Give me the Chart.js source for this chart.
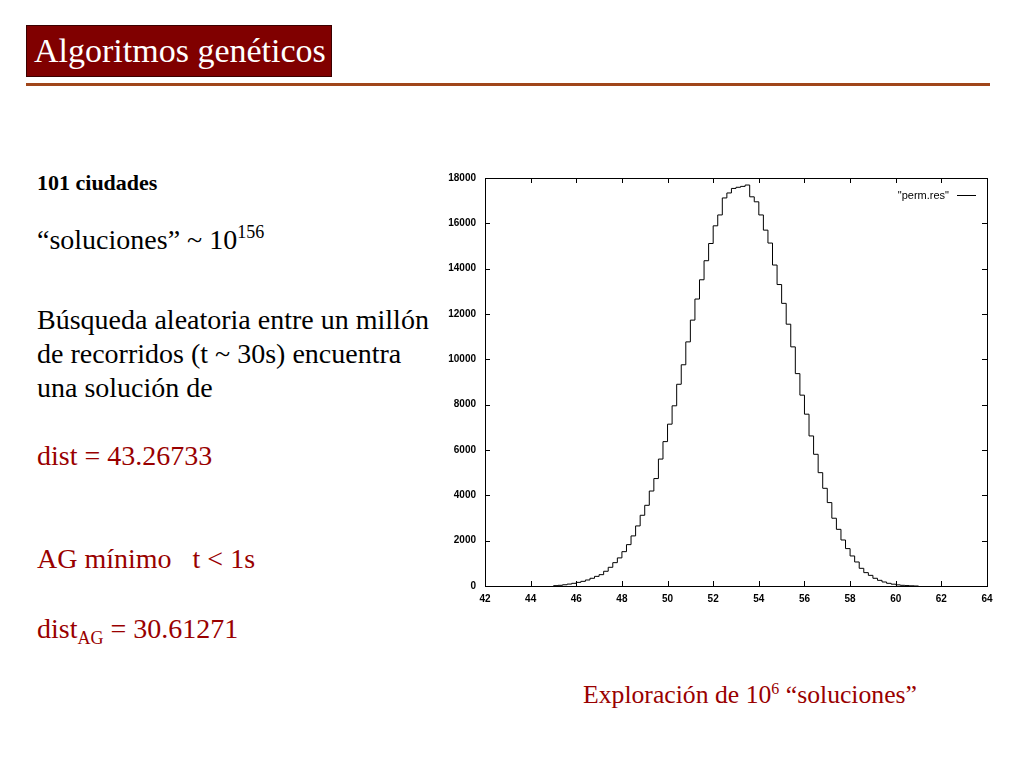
<!DOCTYPE html>
<html>
<head>
<meta charset="utf-8">
<script src="https://cdn.jsdelivr.net/npm/chart.js@4/dist/chart.umd.min.js"></script>
<style>
  html, body { margin:0; padding:0; background:#fff; }
  body { width:1024px; height:768px; position:relative; overflow:hidden; font-family:"Liberation Serif","Times New Roman",serif; }
  .abs { position:absolute; white-space:nowrap; }
  #titlebox { left:26px; top:25px; width:306px; height:52px; background:#800000; box-sizing:border-box; border:1px solid #3a0000; }
  #title { left:34px; top:30px; color:#fff; font-size:34px; line-height:42px; }
  #rule { left:26px; top:83px; width:964px; height:3px; background:#A0461A; }
  .t28 { font-size:28px; line-height:34px; color:#000; }
  .red { color:#990000; }
  sup { font-size:18px; line-height:0; vertical-align:0; position:relative; top:-11px; }
  sub { font-size:18px; line-height:0; vertical-align:0; position:relative; top:6px; }
  #chartwrap { position:absolute; left:430px; top:160px; width:570px; height:460px; }
  #legend { position:absolute; left:850px; top:187px; width:99px; text-align:right; font-family:"Liberation Sans",Arial,sans-serif; font-size:11px; line-height:16px; color:#000; }
  #legline { position:absolute; left:957px; top:195px; width:19px; height:1px; background:#000; }
</style>
</head>
<body>
<div id="titlebox" class="abs"></div>
<div id="title" class="abs">Algoritmos genéticos</div>
<div id="rule" class="abs"></div>

<div class="abs" style="left:37px;top:170px;font-size:22px;line-height:26px;font-weight:bold;">101 ciudades</div>
<div class="abs t28" style="left:37px;top:223px;">“soluciones” ~ 10<sup>156</sup></div>
<div class="abs t28" style="left:37px;top:303px;">Búsqueda aleatoria entre un millón<br>de recorridos (t ~ 30s) encuentra<br>una solución de</div>
<div class="abs t28 red" style="left:37px;top:439px;">dist = 43.26733</div>
<div class="abs t28 red" style="left:37px;top:542px;">AG mínimo&nbsp;&nbsp; t &lt; 1s</div>
<div class="abs t28 red" style="left:37px;top:612px;">dist<sub>AG</sub> = 30.61271</div>
<div class="abs red" style="left:583px;top:680px;font-size:25.7px;line-height:30px;">Exploración de 10<sup style="font-size:16px;top:-9px;">6</sup> “soluciones”</div>

<div id="chartwrap"><canvas id="c" width="570" height="460"></canvas></div>
<div id="legend">"perm.res"</div>
<div id="legline"></div>

<script>
// Histogram bin left edges (x) and counts (y)
const binEdges = [
  45.0,45.2,45.4,45.6,45.8,46.0,46.2,46.4,46.6,46.8,
  47.0,47.2,47.4,47.6,47.8,48.0,48.2,48.4,48.6,48.8,
  49.0,49.2,49.4,49.6,49.8,50.0,50.2,50.4,50.6,50.8,
  51.0,51.2,51.4,51.6,51.8,52.0,52.2,52.4,52.6,52.8,
  53.0,53.2,53.4,53.6,53.8,54.0,54.2,54.4,54.6,54.8,
  55.0,55.2,55.4,55.6,55.8,56.0,56.2,56.4,56.6,56.8,
  57.0,57.2,57.4,57.6,57.8,58.0,58.2,58.4,58.6,58.8,
  59.0,59.2,59.4,59.6,59.8,60.0,60.2,60.4,60.6,60.8,
  61.0
];
const counts = [
  5,15,30,55,85,118,160,205,265,340,
  425,500,650,825,1030,1240,1515,1825,2210,2650,
  3120,3560,4190,4740,5600,6370,7140,7950,8900,9760,
  10770,11730,12660,13510,14350,15110,15890,16370,17120,17340,
  17540,17590,17630,17690,17170,16950,16370,15700,15130,14160,
  13300,12470,11550,10550,9370,8420,7580,6620,5810,5000,
  4310,3680,2990,2500,2030,1650,1325,1060,780,590,
  470,340,250,177,118,80,50,30,18,8,
  0
];
const xTicks = { min:42, max:64, step:2 };
const yTicks = { min:0, max:18000, step:2000 };
const seriesLabel = '"perm.res"';

const points = binEdges.map((x, i) => ({ x: x, y: counts[i] }));

const framePlugin = {
  id: 'frameTicks',
  afterDraw(chart) {
    const ctx = chart.ctx, a = chart.chartArea;
    const xs = chart.scales.x, ys = chart.scales.y;
    const L = 5;
    ctx.save();
    ctx.strokeStyle = '#000';
    ctx.lineWidth = 1;
    ctx.strokeRect(Math.round(a.left) + 0.5, Math.round(a.top) + 0.5, Math.round(a.right - a.left), Math.round(a.bottom - a.top));
    ctx.beginPath();
    xs.ticks.forEach(t => {
      const px = Math.round(xs.getPixelForValue(t.value)) + 0.5;
      ctx.moveTo(px, a.bottom); ctx.lineTo(px, a.bottom - L);
      ctx.moveTo(px, a.top); ctx.lineTo(px, a.top + L);
    });
    ys.ticks.forEach(t => {
      const py = Math.round(ys.getPixelForValue(t.value)) + 0.5;
      ctx.moveTo(a.left, py); ctx.lineTo(a.left + L, py);
      ctx.moveTo(a.right, py); ctx.lineTo(a.right - L, py);
    });
    ctx.stroke();
    ctx.restore();
  }
};

const tickFont = { family: '"Liberation Sans", Arial, sans-serif', size: 10, weight: 'bold' };
const plainNum = v => String(v);

new Chart(document.getElementById('c'), {
  type: 'line',
  data: {
    datasets: [{
      label: seriesLabel,
      data: points,
      stepped: 'after',
      borderColor: '#000',
      borderWidth: 1,
      pointRadius: 0,
      fill: false
    }]
  },
  options: {
    responsive: false,
    animation: false,
    layout: { padding: { left: 0, top: 18, right: 13, bottom: 10 } },
    plugins: { legend: { display: false }, tooltip: { enabled: false } },
    scales: {
      x: {
        type: 'linear', min: xTicks.min, max: xTicks.max,
        ticks: { stepSize: xTicks.step, font: tickFont, color: '#000', padding: 7, maxRotation: 0, autoSkip: false, callback: plainNum },
        grid: { display: false, drawTicks: false },
        border: { display: false },
        afterFit(s) { s.height = 24; }
      },
      y: {
        type: 'linear', min: yTicks.min, max: yTicks.max,
        ticks: { stepSize: yTicks.step, font: tickFont, color: '#000', padding: 9, autoSkip: false, callback: plainNum },
        grid: { display: false, drawTicks: false },
        border: { display: false },
        afterFit(s) { s.width = 55; }
      }
    }
  },
  plugins: [framePlugin]
});
</script>
</body>
</html>
